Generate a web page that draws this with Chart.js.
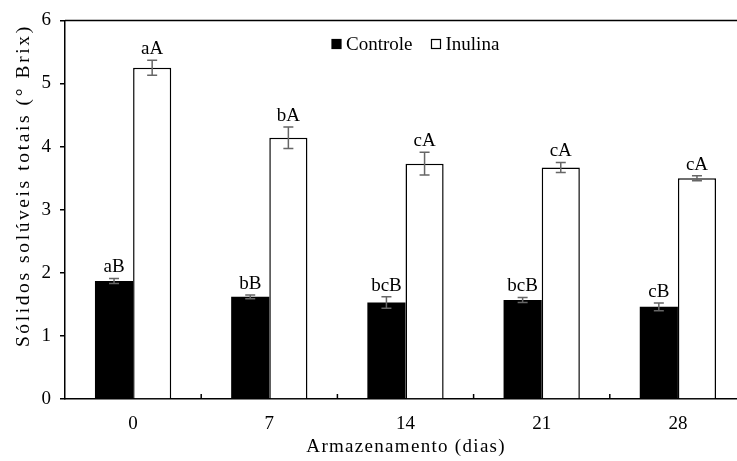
<!DOCTYPE html>
<html>
<head>
<meta charset="utf-8">
<script src="https://cdn.jsdelivr.net/npm/chart.js@4.4.1/dist/chart.umd.min.js"></script>
<style>
html,body{margin:0;padding:0;background:#fff;overflow:hidden;}
#wrap{width:760px;height:461px;position:relative;}
</style>
</head>
<body>
<div id="wrap"><canvas id="c" width="760" height="461"></canvas></div>
<script>
const categories = ['0', '7', '14', '21', '28'];
const controle = [1.87, 1.62, 1.53, 1.57, 1.46];
const controleErr = [0.04, 0.03, 0.09, 0.04, 0.06];
const controleLetters = ['aB', 'bB', 'bcB', 'bcB', 'cB'];
const inulina = [5.25, 4.14, 3.73, 3.67, 3.50];
const inulinaErr = [0.12, 0.17, 0.18, 0.08, 0.04];
const inulinaLetters = ['aA', 'bA', 'cA', 'cA', 'cA'];
const yTicks = [0, 1, 2, 3, 4, 5, 6];
const xTitle = 'Armazenamento (dias)';
const yTitle = 'Sólidos solúveis totais (° Brix)';

const FONT = '"Liberation Serif", "Times New Roman", serif';
const FS = 19;

function spacedText(ctx, text, cx, cy, spacing) {
  const chars = Array.from(text);
  const widths = chars.map(ch => ctx.measureText(ch).width);
  const total = widths.reduce((a, b) => a + b, 0) + spacing * (chars.length - 1);
  let x = cx - total / 2;
  ctx.textAlign = 'left';
  chars.forEach((ch, i) => {
    ctx.fillText(ch, x, cy);
    x += widths[i] + spacing;
  });
}

const extras = {
  id: 'extras',
  afterDatasetsDraw(chart) {
    const ctx = chart.ctx;
    const ys = chart.scales.y;
    const xs = chart.scales.x;
    const ca = chart.chartArea;
    ctx.save();
    // top border
    ctx.strokeStyle = '#000';
    ctx.lineWidth = 1.5;
    ctx.beginPath();
    ctx.moveTo(ca.left, ca.top);
    ctx.lineTo(ca.right, ca.top);
    ctx.stroke();
    // inward x ticks at category boundaries
    for (let i = 0; i < categories.length - 1; i++) {
      const bx = (xs.getPixelForTick(i) + xs.getPixelForTick(i + 1)) / 2;
      ctx.beginPath();
      ctx.moveTo(bx, ca.bottom);
      ctx.lineTo(bx, ca.bottom - 5);
      ctx.stroke();
    }
    // error bars and letters
    const errs = [controleErr, inulinaErr];
    const letters = [controleLetters, inulinaLetters];
    chart.data.datasets.forEach((ds, di) => {
      const meta = chart.getDatasetMeta(di);
      meta.data.forEach((bar, i) => {
        const v = ds.data[i];
        const e = errs[di][i];
        const yHi = ys.getPixelForValue(v + e);
        const yLo = ys.getPixelForValue(v - e);
        const x = bar.x;
        ctx.strokeStyle = '#666';
        ctx.lineWidth = 1.5;
        ctx.beginPath();
        ctx.moveTo(x, yHi); ctx.lineTo(x, yLo);
        ctx.moveTo(x - 5, yHi); ctx.lineTo(x + 5, yHi);
        ctx.moveTo(x - 5, yLo); ctx.lineTo(x + 5, yLo);
        ctx.stroke();
        ctx.fillStyle = '#000';
        ctx.font = FS + 'px ' + FONT;
        ctx.textAlign = 'center';
        ctx.textBaseline = 'alphabetic';
        ctx.fillText(letters[di][i], x, yHi - 6);
      });
    });
    // legend inside plot
    ctx.font = FS + 'px ' + FONT;
    ctx.textAlign = 'left';
    ctx.textBaseline = 'middle';
    const ly = 44;
    let lx = 332;
    chart.data.datasets.forEach((ds, di) => {
      ctx.fillStyle = ds.backgroundColor;
      ctx.fillRect(lx, ly - 4.5, 9, 9);
      ctx.strokeStyle = '#000';
      ctx.lineWidth = 1.2;
      ctx.strokeRect(lx, ly - 4.5, 9, 9);
      ctx.fillStyle = '#000';
      ctx.fillText(ds.label, lx + 14, ly + 1);
      lx += 14 + ctx.measureText(ds.label).width + 19;
    });
    // axis titles (letter-spaced as in the reference)
    ctx.fillStyle = '#000';
    ctx.textBaseline = 'middle';
    ctx.font = FS + 'px ' + FONT;
    spacedText(ctx, xTitle, (ca.left + ca.right) / 2, 447, 1.3);
    ctx.save();
    ctx.translate(24, ca.top + (ca.bottom - ca.top) * 0.44);
    ctx.rotate(-Math.PI / 2);
    ctx.font = '19.5px ' + FONT;
    spacedText(ctx, yTitle, 0, 0, 2.6);
    ctx.restore();
    ctx.restore();
  }
};

new Chart(document.getElementById('c'), {
  type: 'bar',
  data: {
    labels: categories,
    datasets: [
      { label: 'Controle', data: controle, backgroundColor: '#000000', borderColor: '#000000', borderWidth: 0 },
      { label: 'Inulina', data: inulina, backgroundColor: '#ffffff', borderColor: '#000000', borderWidth: 1.5 }
    ]
  },
  options: {
    responsive: false,
    animation: false,
    devicePixelRatio: 1,
    layout: { padding: { top: 18, right: 14, left: 0, bottom: 0 } },
    plugins: { legend: { display: false }, tooltip: { enabled: false } },
    datasets: { bar: { categoryPercentage: 0.56, barPercentage: 1.0 } },
    scales: {
      x: {
        grid: { display: false, drawTicks: false },
        border: { display: true, color: '#000', width: 1.5 },
        ticks: { color: '#000', font: { family: FONT, size: FS }, padding: 14 },
        title: { display: false, text: xTitle },
        afterFit(s) { s.height = 62; }
      },
      y: {
        min: 0, max: 6,
        afterBuildTicks(s) { s.ticks = yTicks.map(v => ({ value: v })); },
        grid: { display: true, drawOnChartArea: false, drawTicks: true, tickLength: 5, color: '#000', lineWidth: 1.5 },
        border: { display: true, color: '#000', width: 1.5 },
        ticks: { color: '#000', font: { family: FONT, size: FS }, padding: 9 },
        title: { display: false, text: yTitle },
        afterFit(s) { s.width = 65; }
      }
    }
  },
  plugins: [extras]
});
</script>
</body>
</html>
